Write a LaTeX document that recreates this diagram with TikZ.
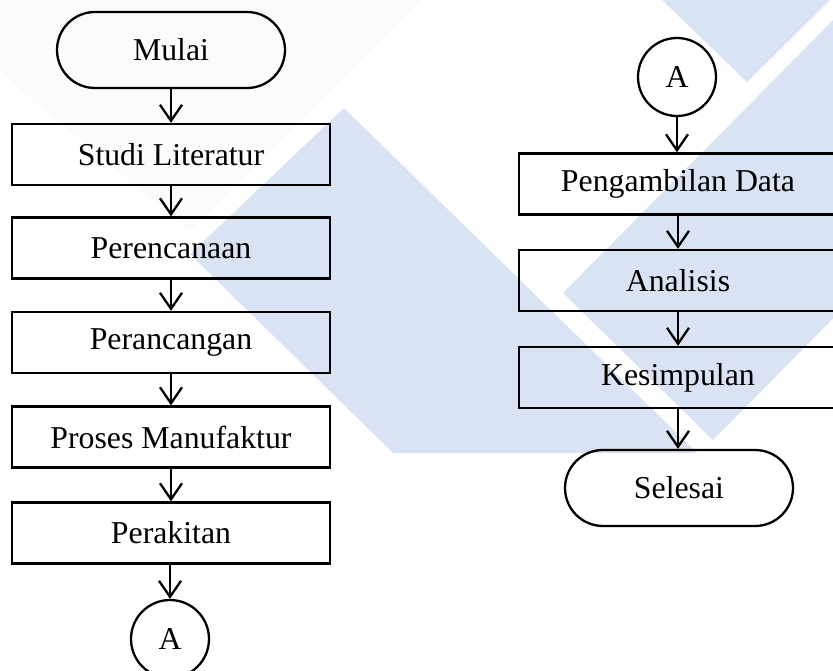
\documentclass[tikz,border=0pt]{standalone}
\usepackage{fontspec}
\setmainfont{Liberation Serif}
\usetikzlibrary{arrows.meta}
\newcommand\dfont{\fontsize{31.8}{38}\selectfont}
\definecolor{wmblue}{RGB}{218,227,243}
\definecolor{wmgray}{RGB}{251,251,251}
\tikzset{
  proc/.style={draw, line width=2.3pt, minimum width=318pt, minimum height=61pt, inner sep=0pt, font=\dfont},
  term/.style={draw, line width=2.3pt, rounded corners=38pt, minimum width=228pt, minimum height=76pt, inner sep=0pt, font=\dfont},
  conn/.style={draw, line width=2.3pt, circle, minimum size=78pt, inner sep=0pt, font=\dfont},
  flow/.style={-{Straight Barb[length=16pt,width=22pt]}, line width=2.3pt},
  wm/.style={fill=wmblue, draw=none}
}
\begin{document}
\begin{tikzpicture}[x=1pt,y=-1pt]
\useasboundingbox (0,0) rectangle (833,671);
\clip (0,0) rectangle (833,671);
\fill[white] (0,0) rectangle (833,671);
% watermark
\fill[wmgray] (0,0) -- (423,0) -- (190,232) -- (0,73) -- cycle;
\fill[wm] (344,108) -- (697,453) -- (393,453) -- (190,254) -- cycle;
\fill[wm] (563,293) -- (853,0) -- (960,0) -- (960,190) -- (713,440) -- cycle;
\fill[wm] (662,0) -- (747,82) -- (830,0) -- cycle;
% left column
\node[term] (mulai) at (171,50) {Mulai};
\node[proc] (studi) at (171,154.5) {Studi Literatur};
\node[proc] (renc) at (171,248) {Perencanaan};
\node[proc] (ranc) at (171,342.5) {Perancangan};
\node[proc] (manu) at (171,437) {Proses Manufaktur};
\node[proc] (rakit) at (171,533) {Perakitan};
\node[conn] (a1) at (170,639) {A};
% right column
\node[conn] (a2) at (677,77) {A};
\node[proc] (ambil) at (678,184) {Pengambilan Data};
\node[proc] (anal) at (678,280.5) {Analisis};
\node[proc] (kesim) at (678,377.5) {Kesimpulan};
\node[term] (selesai) at (679,488) {Selesai};
% connectors
\draw[flow] (mulai) -- (studi);
\draw[flow] (studi) -- (renc);
\draw[flow] (renc) -- (ranc);
\draw[flow] (ranc) -- (manu);
\draw[flow] (manu) -- (rakit);
\draw[flow] (rakit.south -| a1) -- (a1);
\draw[flow] (a2) -- (ambil.north -| a2);
\draw[flow] (ambil) -- (anal);
\draw[flow] (anal) -- (kesim);
\draw[flow] (kesim) -- (selesai.north -| kesim);
\end{tikzpicture}
\end{document}
